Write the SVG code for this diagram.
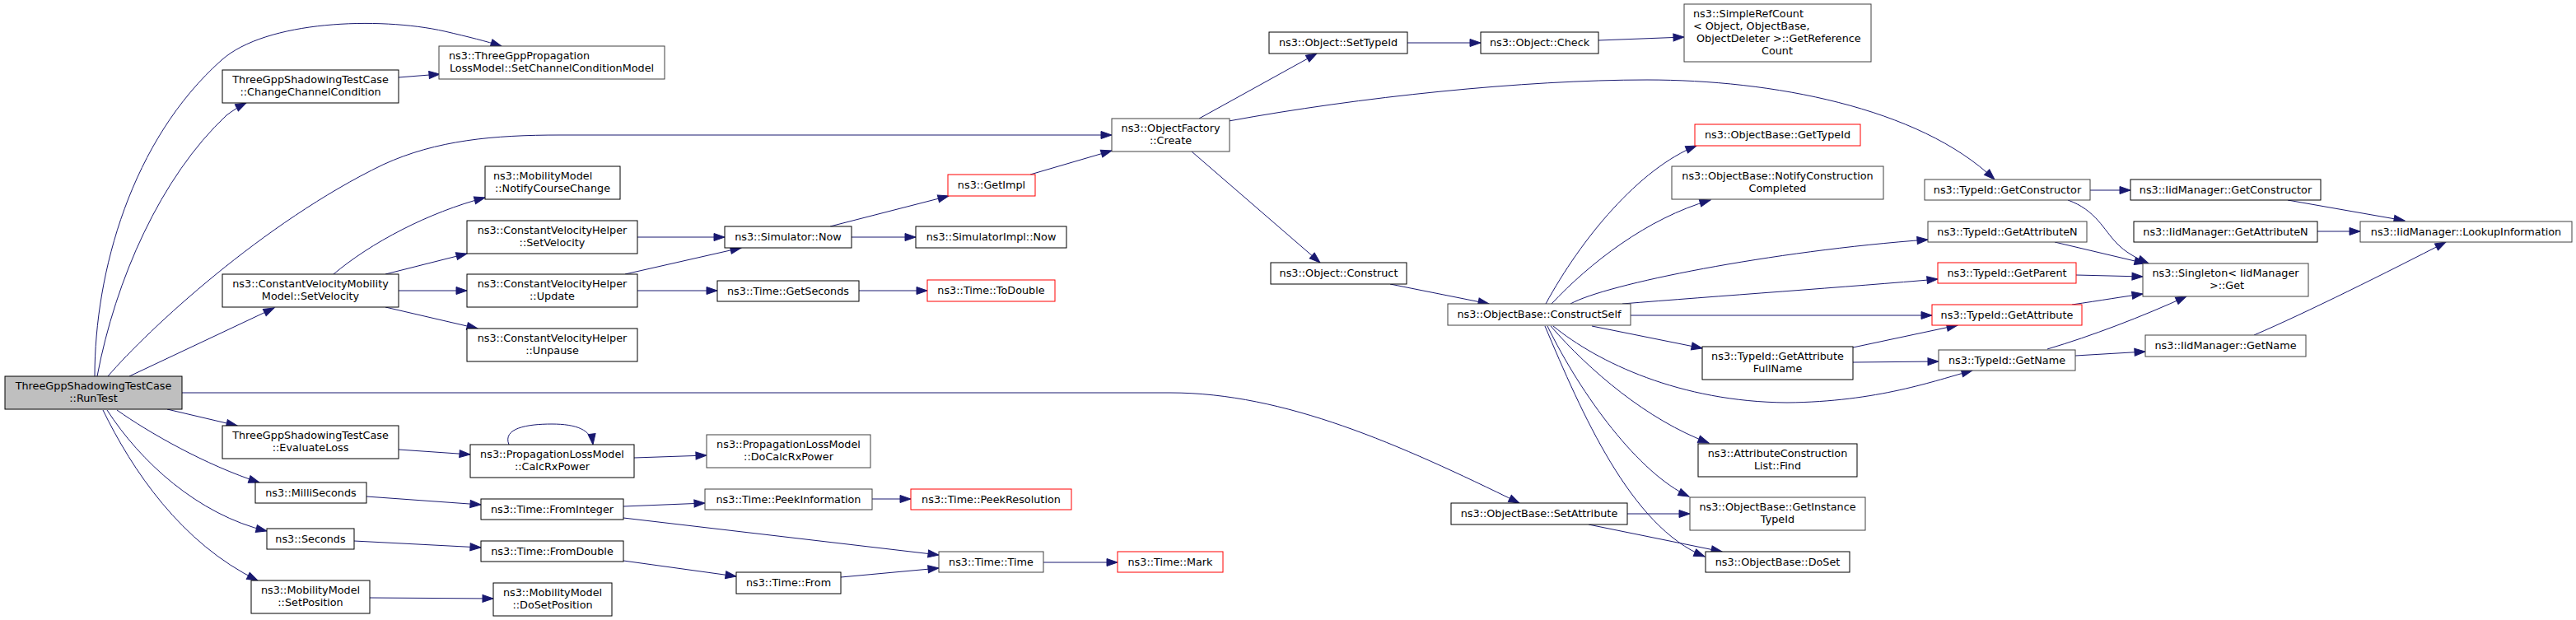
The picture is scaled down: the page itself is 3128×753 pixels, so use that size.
<svg xmlns="http://www.w3.org/2000/svg" width="3128" height="753" viewBox="0 0 3128 753">
<style>
rect{fill:#fff;stroke:#000;stroke-width:1}
.g rect{stroke:#404040}
.r rect{stroke:#f00}
.root rect{fill:#bfbfbf;stroke:#000}
text{font-family:"DejaVu Sans","Liberation Sans",sans-serif;font-size:12.8px;fill:#000;text-anchor:middle}
text.l{text-anchor:start}
#edges path{fill:none;stroke:#191970;stroke-width:1;marker-end:url(#a)}
</style>
<defs>
<marker id="a" markerUnits="userSpaceOnUse" markerWidth="13" markerHeight="9" refX="13" refY="4.5" orient="auto" viewBox="0 0 13 9" overflow="visible"><path d="M0,0L13,4.5L0,9z" fill="#191970" stroke="#191970" stroke-width="1"/></marker>
</defs>
<rect x="0" y="0" width="3128" height="753" style="fill:#fff;stroke:none"/>
<g id="edges">
<path d="M115,457 C115,330 160,170 269,73 C323,25 460,20 540,38 C570,45 590,50 609,56"/>
<path d="M118,457 C140,340 195,215 275,140 C283,134 291,129 299,125"/>
<path d="M131,457 C180,400 320,270 465,200 C530,170 600,164 680,164 L1350,164"/>
<path d="M157,457 L333,374"/>
<path d="M221,477 L1421,477 C1560,477 1700,540 1845,611"/>
<path d="M203,497 L288,517"/>
<path d="M142,498 C180,525 250,565 315,586"/>
<path d="M130,498 C170,560 240,625 324,645"/>
<path d="M125,498 C160,570 220,660 313,705"/>
<path d="M484,94 L534,90"/>
<path d="M405,333 C450,295 520,258 589,240"/>
<path d="M468,333 L567,308"/>
<path d="M484,353 L567,353"/>
<path d="M468,373 L580,399"/>
<path d="M774,288 L880,288"/>
<path d="M759,333 L900,301"/>
<path d="M774,353 L871,353"/>
<path d="M1008,275 L1152,238"/>
<path d="M1034,288 L1112,288"/>
<path d="M1043,353 L1126,353"/>
<path d="M1251,212 L1350,183"/>
<path d="M1456,144 L1599,65"/>
<path d="M1492,147 C1650,118 1850,97 2000,97 C2150,97 2330,130 2422,218"/>
<path d="M1447,184 L1603,319"/>
<path d="M1709,52 L1798,52"/>
<path d="M1941,49 L2045,45"/>
<path d="M1688,345 L1808,369"/>
<path d="M1877,369 C1920,290 1990,205 2060,177"/>
<path d="M1884,369 C1930,320 2000,265 2077,243"/>
<path d="M1907,369 C1950,345 2150,305 2341,291"/>
<path d="M1970,369 C2080,360 2250,348 2353,339"/>
<path d="M1980,383 L2346,383"/>
<path d="M1933,396 L2067,423"/>
<path d="M1886,396 C1940,440 2040,488 2170,489 C2280,488 2350,462 2395,450"/>
<path d="M1883,396 C1930,450 2000,510 2075,538"/>
<path d="M1879,396 C1920,480 1990,575 2051,603"/>
<path d="M1876,396 C1920,500 1980,640 2070,676"/>
<path d="M1976,624 L2052,624"/>
<path d="M1929,637 L2091,670"/>
<path d="M2538,231 L2587,231"/>
<path d="M2511,243 C2545,255 2555,280 2570,295 C2580,306 2595,314 2609,320"/>
<path d="M2495,294 L2605,320"/>
<path d="M2521,334 L2602,336"/>
<path d="M2516,370 C2550,365 2580,360 2602,357"/>
<path d="M2250,422 L2377,395"/>
<path d="M2250,440 L2354,439"/>
<path d="M2486,424 C2540,408 2600,385 2655,360"/>
<path d="M2520,432 L2605,427"/>
<path d="M2778,243 L2920,268"/>
<path d="M2814,281 L2866,281"/>
<path d="M2737,407 C2800,380 2900,330 2970,294"/>
<path d="M484,546 L571,552"/>
<path d="M618,540 C610,520 640,515 670,515 C700,515 718,522 720,540"/>
<path d="M770,556 L858,553"/>
<path d="M445,603 L584,613"/>
<path d="M430,657 L584,665"/>
<path d="M449,726 L599,727"/>
<path d="M757,615 L856,611"/>
<path d="M757,629 L1140,674"/>
<path d="M1059,606 L1106,606"/>
<path d="M757,681 L894,700"/>
<path d="M1021,701 L1140,690"/>
<path d="M1267,683 L1357,683"/>
</g>
<g id="n_runtest" class="root"><rect x="6" y="457" width="215" height="40"/><text x="113.5" y="473">ThreeGppShadowingTestCase</text><text x="113.5" y="488">::RunTest</text></g>
<g id="n_changecc"><rect x="270" y="85" width="214" height="40"/><text x="377" y="101">ThreeGppShadowingTestCase</text><text x="377" y="116">::ChangeChannelCondition</text></g>
<g id="n_setccm" class="g"><rect x="533" y="56" width="274" height="40"/><text class="l" x="545" y="72">ns3::ThreeGppPropagation</text><text x="670" y="87">LossModel::SetChannelConditionModel</text></g>
<g id="n_cvmm_setvel"><rect x="270" y="333" width="214" height="40"/><text x="377" y="349">ns3::ConstantVelocityMobility</text><text x="377" y="364">Model::SetVelocity</text></g>
<g id="n_evalloss"><rect x="270" y="517" width="214" height="40"/><text x="377" y="533">ThreeGppShadowingTestCase</text><text x="377" y="548">::EvaluateLoss</text></g>
<g id="n_milli"><rect x="310" y="586" width="135" height="25"/><text x="377.5" y="603">ns3::MilliSeconds</text></g>
<g id="n_seconds"><rect x="324" y="642" width="106" height="25"/><text x="377" y="659">ns3::Seconds</text></g>
<g id="n_setpos"><rect x="305" y="705" width="144" height="40"/><text x="377" y="721">ns3::MobilityModel</text><text x="377" y="736">::SetPosition</text></g>
<g id="n_notify"><rect x="589" y="202" width="164" height="40"/><text class="l" x="599" y="218">ns3::MobilityModel</text><text x="671" y="233">::NotifyCourseChange</text></g>
<g id="n_cvh_setvel"><rect x="567" y="268" width="207" height="40"/><text x="670.5" y="284">ns3::ConstantVelocityHelper</text><text x="670.5" y="299">::SetVelocity</text></g>
<g id="n_cvh_update"><rect x="567" y="333" width="207" height="40"/><text x="670.5" y="349">ns3::ConstantVelocityHelper</text><text x="670.5" y="364">::Update</text></g>
<g id="n_cvh_unpause"><rect x="567" y="399" width="207" height="40"/><text x="670.5" y="415">ns3::ConstantVelocityHelper</text><text x="670.5" y="430">::Unpause</text></g>
<g id="n_calcrx"><rect x="571" y="540" width="199" height="40"/><text x="670.5" y="556">ns3::PropagationLossModel</text><text x="670.5" y="571">::CalcRxPower</text></g>
<g id="n_fromint"><rect x="584" y="606" width="173" height="25"/><text x="670.5" y="623">ns3::Time::FromInteger</text></g>
<g id="n_fromdbl"><rect x="584" y="657" width="173" height="25"/><text x="670.5" y="674">ns3::Time::FromDouble</text></g>
<g id="n_dosetpos"><rect x="599" y="708" width="144" height="40"/><text x="671" y="724">ns3::MobilityModel</text><text x="671" y="739">::DoSetPosition</text></g>
<g id="n_simnow"><rect x="880" y="275" width="154" height="26"/><text x="957" y="292">ns3::Simulator::Now</text></g>
<g id="n_getsec"><rect x="871" y="341" width="172" height="25"/><text x="957" y="358">ns3::Time::GetSeconds</text></g>
<g id="n_docalcrx" class="g"><rect x="858" y="528" width="199" height="40"/><text x="957.5" y="544">ns3::PropagationLossModel</text><text x="957.5" y="559">::DoCalcRxPower</text></g>
<g id="n_peekinfo" class="g"><rect x="856" y="594" width="203" height="25"/><text x="957.5" y="611">ns3::Time::PeekInformation</text></g>
<g id="n_from"><rect x="894" y="695" width="127" height="26"/><text x="957.5" y="712">ns3::Time::From</text></g>
<g id="n_getimpl" class="r"><rect x="1151" y="212" width="106" height="26"/><text x="1204" y="229">ns3::GetImpl</text></g>
<g id="n_simimplnow"><rect x="1112" y="275" width="183" height="26"/><text x="1203.5" y="292">ns3::SimulatorImpl::Now</text></g>
<g id="n_todouble" class="r"><rect x="1126" y="340" width="155" height="26"/><text x="1203.5" y="357">ns3::Time::ToDouble</text></g>
<g id="n_peekres" class="r"><rect x="1106" y="594" width="195" height="25"/><text x="1203.5" y="611">ns3::Time::PeekResolution</text></g>
<g id="n_time" class="g"><rect x="1140" y="670" width="127" height="25"/><text x="1203.5" y="687">ns3::Time::Time</text></g>
<g id="n_mark" class="r"><rect x="1357" y="670" width="128" height="25"/><text x="1421" y="687">ns3::Time::Mark</text></g>
<g id="n_create" class="g"><rect x="1350" y="144" width="143" height="40"/><text x="1421.5" y="160">ns3::ObjectFactory</text><text x="1421.5" y="175">::Create</text></g>
<g id="n_settypeid"><rect x="1541" y="39" width="168" height="26"/><text x="1625" y="56">ns3::Object::SetTypeId</text></g>
<g id="n_construct"><rect x="1543" y="319" width="165" height="26"/><text x="1625.5" y="336">ns3::Object::Construct</text></g>
<g id="n_check"><rect x="1798" y="39" width="143" height="26"/><text x="1869.5" y="56">ns3::Object::Check</text></g>
<g id="n_constructself" class="g"><rect x="1758" y="369" width="222" height="26"/><text x="1869" y="386">ns3::ObjectBase::ConstructSelf</text></g>
<g id="n_setattr"><rect x="1762" y="611" width="214" height="26"/><text x="1869" y="628">ns3::ObjectBase::SetAttribute</text></g>
<g id="n_refcount" class="g"><rect x="2045" y="5" width="227" height="70"/><text class="l" x="2056" y="21">ns3::SimpleRefCount</text><text class="l" x="2056" y="36">&lt; Object, ObjectBase,</text><text class="l" x="2060" y="51">ObjectDeleter &gt;::GetReference</text><text x="2158" y="66">Count</text></g>
<g id="n_gettypeid" class="r"><rect x="2058" y="151" width="201" height="26"/><text x="2158.5" y="168">ns3::ObjectBase::GetTypeId</text></g>
<g id="n_notifyconst" class="g"><rect x="2030" y="202" width="257" height="40"/><text x="2158.5" y="218">ns3::ObjectBase::NotifyConstruction</text><text x="2158.5" y="233">Completed</text></g>
<g id="n_getattrfull"><rect x="2067" y="421" width="183" height="40"/><text x="2158.5" y="437">ns3::TypeId::GetAttribute</text><text x="2158.5" y="452">FullName</text></g>
<g id="n_acfind"><rect x="2062" y="539" width="193" height="40"/><text x="2158.5" y="555">ns3::AttributeConstruction</text><text x="2158.5" y="570">List::Find</text></g>
<g id="n_getinst" class="g"><rect x="2052" y="604" width="213" height="40"/><text x="2158.5" y="620">ns3::ObjectBase::GetInstance</text><text x="2158.5" y="635">TypeId</text></g>
<g id="n_doset"><rect x="2071" y="670" width="175" height="25"/><text x="2158.5" y="687">ns3::ObjectBase::DoSet</text></g>
<g id="n_tgetctor" class="g"><rect x="2337" y="218" width="201" height="25"/><text x="2437.5" y="235">ns3::TypeId::GetConstructor</text></g>
<g id="n_tgetattrn" class="g"><rect x="2341" y="269" width="193" height="25"/><text x="2437.5" y="286">ns3::TypeId::GetAttributeN</text></g>
<g id="n_getparent" class="r"><rect x="2353" y="319" width="168" height="25"/><text x="2437" y="336">ns3::TypeId::GetParent</text></g>
<g id="n_getattr" class="r"><rect x="2346" y="370" width="182" height="25"/><text x="2437" y="387">ns3::TypeId::GetAttribute</text></g>
<g id="n_getname" class="g"><rect x="2354" y="425" width="166" height="25"/><text x="2437" y="442">ns3::TypeId::GetName</text></g>
<g id="n_iidgetctor"><rect x="2587" y="218" width="231" height="25"/><text x="2702.5" y="235">ns3::IidManager::GetConstructor</text></g>
<g id="n_iidgetattrn"><rect x="2591" y="269" width="223" height="25"/><text x="2702.5" y="286">ns3::IidManager::GetAttributeN</text></g>
<g id="n_lookup" class="g"><rect x="2866" y="269" width="257" height="25"/><text x="2994.5" y="286">ns3::IidManager::LookupInformation</text></g>
<g id="n_singleton" class="g"><rect x="2602" y="320" width="201" height="40"/><text x="2702.5" y="336">ns3::Singleton&lt; IidManager</text><text x="2704" y="351">&gt;::Get</text></g>
<g id="n_iidgetname" class="g"><rect x="2605" y="407" width="195" height="26"/><text x="2702.5" y="424">ns3::IidManager::GetName</text></g>
</svg>
